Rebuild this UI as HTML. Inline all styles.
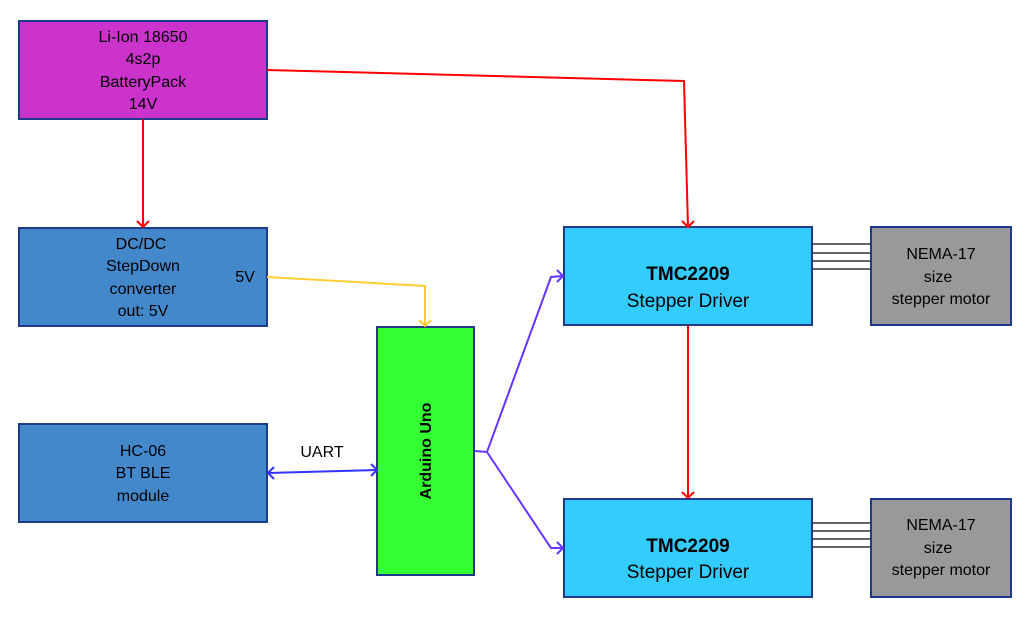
<!DOCTYPE html>
<html><head><meta charset="utf-8"><style>
html,body{margin:0;padding:0;background:#fff;width:1035px;height:623px;overflow:hidden}
text{font-family:"Liberation Sans",sans-serif;font-size:16px;fill:#000}
</style></head><body>
<svg width="1035" height="623" viewBox="0 0 1035 623" xmlns="http://www.w3.org/2000/svg">
<g stroke="#1f3a8a" stroke-width="2">
<rect x="19" y="21" width="248" height="98" fill="#cc33cc"/>
<rect x="19" y="228" width="248" height="98" fill="#4488cc"/>
<rect x="19" y="424" width="248" height="98" fill="#4488cc"/>
<rect x="377" y="327" width="97" height="248" fill="#33ff33"/>
<rect x="564" y="227" width="248" height="98" fill="#33ccff"/>
<rect x="564" y="499" width="248" height="98" fill="#33ccff"/>
<rect x="871" y="227" width="140" height="98" fill="#999999"/>
<rect x="871" y="499" width="140" height="98" fill="#999999"/>
</g>
<g fill="none" stroke-width="2">
<path d="M143 119 L143 227" stroke="#ff0000"/>
<path d="M137 221 L143 227 L149 221" stroke="#ff0000"/>
<path d="M267 70 L684 81 L688 227" stroke="#ff0000"/>
<path d="M682 221 L688 227 L694 221" stroke="#ff0000"/>
<path d="M688 325 L688 498" stroke="#ff0000"/>
<path d="M682 492 L688 498 L694 492" stroke="#ff0000"/>
<path d="M267 277 L425 286 L425 326" stroke="#ffcc33"/>
<path d="M419 320 L425 326 L431 320" stroke="#ffcc33"/>
<path d="M268 473 L377 470" stroke="#3333ff"/>
<path d="M274 467 L268 473 L274 479 M371 464 L377 470 L371 476" stroke="#3333ff"/>
<path d="M475 451 L487 452 L551 277 L563 276 M487 452 L551 548 L563 548" stroke="#6633ff"/>
<path d="M557 270 L563 276 L557 282 M557 542 L563 548 L557 554" stroke="#6633ff"/>
</g>
<g stroke="#333" stroke-width="1.5">
<path d="M812 244 H871 M812 253 H871 M812 261 H871 M812 269 H871"/>
<path d="M812 523 H871 M812 531 H871 M812 539 H871 M812 547 H871"/>
</g>
<g text-anchor="middle">
<text x="143" y="42">Li-Ion 18650</text><text x="143" y="64">4s2p</text><text x="143" y="87">BatteryPack</text><text x="143" y="109">14V</text>
<text x="141" y="249">DC/DC</text><text x="143" y="271">StepDown</text><text x="143" y="294">converter</text><text x="143" y="316">out: 5V</text>
<text x="245" y="282">5V</text>
<text x="143" y="456">HC-06</text><text x="143" y="478">BT BLE</text><text x="143" y="501">module</text>
<text x="322" y="457">UART</text>
<text x="941" y="259">NEMA-17</text><text x="938" y="282">size</text><text x="941" y="304">stepper motor</text>
<text x="941" y="530">NEMA-17</text><text x="938" y="553">size</text><text x="941" y="575">stepper motor</text>
<text x="688" y="280" style="font-weight:bold;font-size:19px">TMC2209</text>
<text x="688" y="307" style="font-size:19px">Stepper Driver</text>
<text x="688" y="552" style="font-weight:bold;font-size:19px">TMC2209</text>
<text x="688" y="578" style="font-size:19px">Stepper Driver</text>
<text x="0" y="0" transform="translate(431,451) rotate(-90)" style="font-weight:bold;font-size:16px">Arduino Uno</text>
</g>
</svg>
</body></html>
